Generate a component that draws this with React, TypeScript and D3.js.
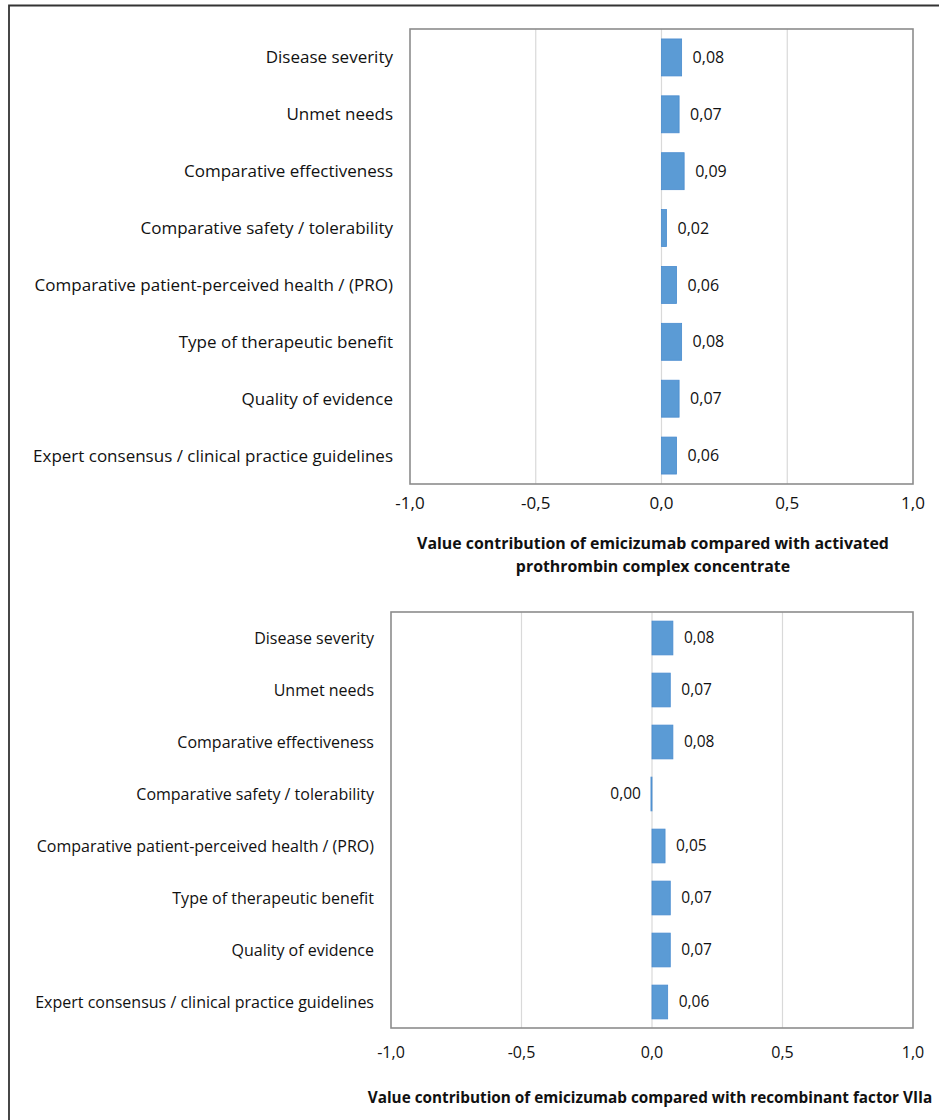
import React, { useRef, useEffect } from "react";
import * as d3 from "d3";

// criteria, top to bottom
const categories = [
  "Disease severity",
  "Unmet needs",
  "Comparative effectiveness",
  "Comparative safety / tolerability",
  "Comparative patient-perceived health / (PRO)",
  "Type of therapeutic benefit",
  "Quality of evidence",
  "Expert consensus / clinical practice guidelines",
];

// emicizumab vs activated prothrombin complex concentrate
const valuesApcc = [0.08, 0.07, 0.09, 0.02, 0.06, 0.08, 0.07, 0.06];
// emicizumab vs recombinant factor VIIa (safety is a tiny negative value)
const valuesRfviia = [0.08, 0.07, 0.08, -0.004, 0.05, 0.07, 0.07, 0.06];

const xTicks = [-1, -0.5, 0, 0.5, 1];

const titleApcc = [
  "Value contribution of emicizumab compared with activated",
  "prothrombin complex concentrate",
];
const titleRfviia = [
  "Value contribution of emicizumab compared with recombinant factor VIIa",
];

const W = 939;
const H = 1120;
const FONT = "'Open Sans', sans-serif";

const locale = d3.formatLocale({
  decimal: ",",
  thousands: ".",
  grouping: [3],
  currency: ["", ""],
  minus: "-",
});
const fmtTick = locale.format(".1f");
const fmtVal = (v) => locale.format(".2f")(Math.abs(v) < 0.005 ? 0 : v);

function drawPanel(svg, opts) {
  const {
    values, title, left, right, top, bottom, labelRight,
    labelSize, valSize, tickSize, tickY, titleX, titleY, titleSize,
  } = opts;

  const x = d3.scaleLinear().domain([-1, 1]).range([left, right]);
  const y = d3.scaleBand().domain(categories).range([top, bottom]).paddingInner(0.35).paddingOuter(0.175);

  const g = svg.append("g");

  // gridlines
  g.selectAll("line.grid")
    .data(xTicks.filter((t) => t !== -1 && t !== 1))
    .join("line")
    .attr("class", "grid")
    .attr("x1", (d) => x(d))
    .attr("x2", (d) => x(d))
    .attr("y1", top)
    .attr("y2", bottom)
    .attr("stroke", "#d9d9d9")
    .attr("stroke-width", 1.2);

  // plot border
  g.append("rect")
    .attr("x", left)
    .attr("y", top)
    .attr("width", right - left)
    .attr("height", bottom - top)
    .attr("fill", "none")
    .attr("stroke", "#8c8c8c")
    .attr("stroke-width", 1.6);

  // bars
  g.selectAll("rect.bar")
    .data(values)
    .join("rect")
    .attr("class", "bar")
    .attr("x", (d) => Math.min(x(0), x(d)))
    .attr("y", (d, i) => y(categories[i]))
    .attr("width", (d) => Math.max(1, Math.abs(x(d) - x(0))))
    .attr("height", y.bandwidth())
    .attr("fill", "#5b9bd5")
    .attr("stroke", "#4a8ccf")
    .attr("stroke-width", 0.8);

  // value labels
  g.selectAll("text.val")
    .data(values)
    .join("text")
    .attr("class", "val")
    .attr("x", (d) => (d < 0 ? x(d) - 10 : x(d) + 11))
    .attr("y", (d, i) => y(categories[i]) + y.bandwidth() / 2)
    .attr("dy", "0.35em")
    .attr("text-anchor", (d) => (d < 0 ? "end" : "start"))
    .style("font", `${valSize}px ${FONT}`)
    .attr("fill", "#111")
    .text((d) => fmtVal(d));

  // category labels
  g.selectAll("text.cat")
    .data(categories)
    .join("text")
    .attr("class", "cat")
    .attr("x", labelRight)
    .attr("y", (d) => y(d) + y.bandwidth() / 2)
    .attr("dy", "0.35em")
    .attr("text-anchor", "end")
    .style("font", `${labelSize}px ${FONT}`)
    .attr("fill", "#111")
    .text((d) => d);

  // x tick labels
  g.selectAll("text.tick")
    .data(xTicks)
    .join("text")
    .attr("class", "tick")
    .attr("x", (d) => x(d))
    .attr("y", tickY)
    .attr("dy", "0.35em")
    .attr("text-anchor", "middle")
    .style("font", `${tickSize}px ${FONT}`)
    .attr("fill", "#111")
    .text((d) => fmtTick(d));

  // axis title
  g.selectAll("text.title")
    .data(title)
    .join("text")
    .attr("class", "title")
    .attr("x", titleX)
    .attr("y", (d, i) => titleY + i * 23)
    .attr("dy", "0.35em")
    .attr("text-anchor", "middle")
    .style("font", `bold ${titleSize}px ${FONT}`)
    .attr("fill", "#111")
    .text((d) => d);
}

export default function App() {
  const svgRef = useRef(null);

  useEffect(() => {
    document.body.style.margin = "0";
    const svg = d3.select(svgRef.current);
    svg.selectAll("*").remove();

    svg.append("rect").attr("width", W).attr("height", H).attr("fill", "#fff");

    // outer frame (top and left edges only are visible)
    svg.append("path")
      .attr("d", `M9,${H + 5}V5.5H${W + 5}`)
      .attr("fill", "none")
      .attr("stroke", "#333")
      .attr("stroke-width", 1.8);

    drawPanel(svg, {
      values: valuesApcc,
      title: titleApcc,
      left: 410,
      right: 913,
      top: 29,
      bottom: 484,
      labelRight: 393,
      labelSize: 17,
      valSize: 16,
      tickSize: 17,
      tickY: 503,
      titleX: 653,
      titleY: 543,
      titleSize: 15.9,
    });

    drawPanel(svg, {
      values: valuesRfviia,
      title: titleRfviia,
      left: 391,
      right: 913,
      top: 612,
      bottom: 1028,
      labelRight: 374,
      labelSize: 16,
      valSize: 15.5,
      tickSize: 16,
      tickY: 1052,
      titleX: 650,
      titleY: 1098,
      titleSize: 15.3,
    });
  }, []);

  return <svg ref={svgRef} width={W} height={H} style={{ display: "block" }}></svg>;
}
